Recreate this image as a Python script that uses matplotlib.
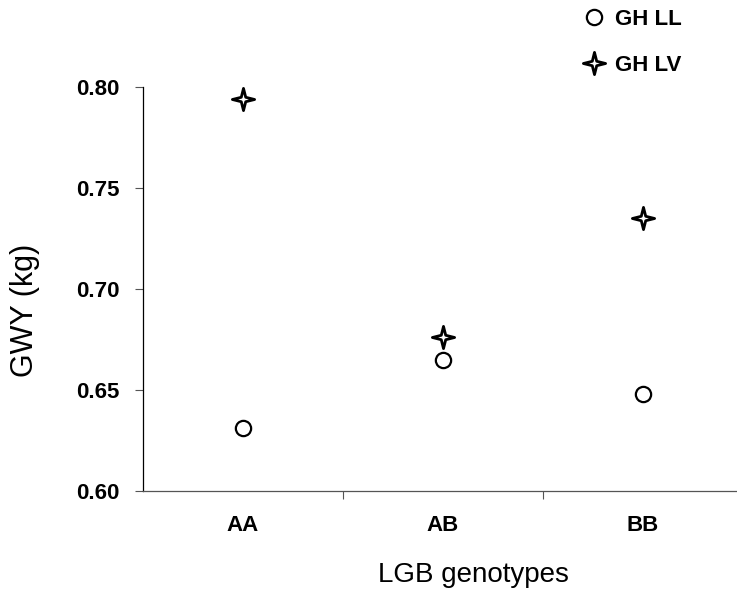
import matplotlib

matplotlib.use("Agg")
import matplotlib.pyplot as plt
from matplotlib.path import Path

genotypes = ["AA", "AB", "BB"]
gh_ll = [0.631, 0.665, 0.648]
gh_lv = [0.794, 0.676, 0.735]

plt.rcParams["font.family"] = ["Liberation Sans", "DejaVu Sans"]

# четырёхлучевая звезда
a = 0.2
star = Path(
    [(0, 1), (a, a), (1, 0), (a, -a), (0, -1), (-a, -a), (-1, 0), (-a, a), (0, 1)],
    [Path.MOVETO] + [Path.LINETO] * 7 + [Path.CLOSEPOLY],
)

fig = plt.figure(figsize=(7.37, 6.05), dpi=100)
ax = fig.add_axes([143 / 737, 1 - 491 / 605, 1 - 143 / 737, (491 - 87) / 605])

xs = [i + 0.5 for i in range(len(genotypes))]
ax.plot(xs, gh_ll, "o", ms=11, mfc="white", mec="black", mew=1.6, ls="none", label="GH LL")
ax.plot(xs, gh_lv, marker=star, ms=16, mfc="white", mec="black", mew=2.0, ls="none", label="GH LV")

ax.set_xlim(0, 2.97)
ax.set_ylim(0.60, 0.80)
ax.set_yticks([0.60, 0.65, 0.70, 0.75, 0.80])
ax.set_yticklabels([f"{v:.2f}" for v in [0.60, 0.65, 0.70, 0.75, 0.80]])
ax.set_xticks([1, 2])
ax.set_xticklabels([])
ax.set_xticks(xs, minor=True)
ax.set_xticklabels(genotypes, minor=True)
ax.tick_params(axis="x", which="minor", length=0, pad=17)
ax.tick_params(axis="x", which="major", length=6, width=0.8, color="#555555")
ax.tick_params(axis="y", length=6, width=0.8, color="#555555", pad=11)
for lab in ax.get_yticklabels() + ax.get_xticklabels(minor=True):
    lab.set_fontsize(16)
    lab.set_fontweight("bold")

ax.spines["top"].set_visible(False)
ax.spines["right"].set_visible(False)
ax.spines["left"].set_color("black")
ax.spines["bottom"].set_color("#555555")
ax.spines["left"].set_linewidth(0.9)
ax.spines["bottom"].set_linewidth(0.9)

fig.text(473 / 737, 1 - 575 / 605, "LGB genotypes", fontsize=20, ha="center", va="center")
fig.text(25 / 737, 1 - 310 / 605, "GWY (kg)", fontsize=22, rotation=90, ha="center", va="center")

fig.legend(
    loc="upper left",
    bbox_to_anchor=(561 / 737, 1 + 11 / 605),
    frameon=False,
    labelspacing=1.12,
    handlelength=1.2,
    handletextpad=0.35,
    prop={"size": 16, "weight": "bold"},
)

fig.savefig("out.png", dpi=100)
